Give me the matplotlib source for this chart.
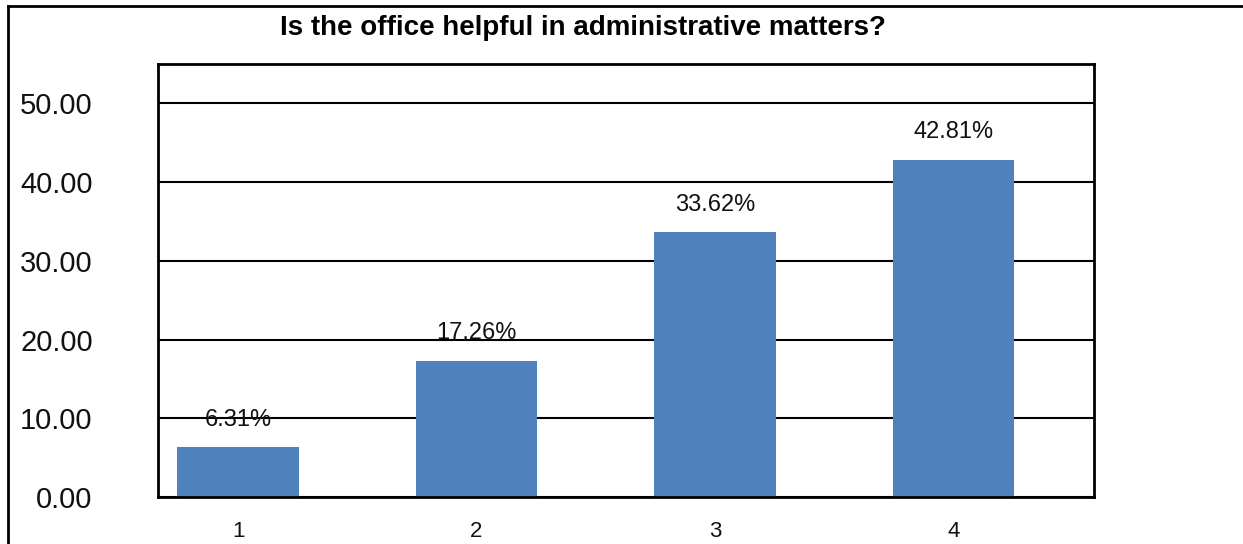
import matplotlib.pyplot as plt
from matplotlib.lines import Line2D

plt.rcParams['font.family'] = ['Liberation Sans', 'DejaVu Sans']

# chart data
categories = ['1', '2', '3', '4']
percentages = [6.31, 17.26, 33.62, 42.81]
value_labels = ['6.31%', '17.26%', '33.62%', '42.81%']
y_ticks = [0, 10, 20, 30, 40, 50]

fig = plt.figure(figsize=(12.43, 5.44), dpi=100)
W, H = 1243, 544
# axes box in pixels: left 158, right 1094, top 64, bottom 497
ax = fig.add_axes([158 / W, 1 - 497 / H, (1094 - 158) / W, (497 - 64) / H])

x = list(range(len(categories)))
bars = ax.bar(x, percentages, width=0.51, color='#4F81BD', zorder=2)

for b, lab in zip(bars, value_labels):
    ax.annotate(lab, (b.get_x() + b.get_width() / 2, b.get_height()),
                xytext=(0, 12), textcoords='offset points',
                ha='center', va='bottom', fontsize=17, color='#111111')

ax.set_xlim(-0.336, 3.59)
ax.set_ylim(0, 55)
ax.set_xticks(x)
ax.set_xticklabels(categories)
ax.set_yticks(y_ticks)
ax.set_yticklabels(['%.2f' % v for v in y_ticks])
ax.tick_params(axis='y', length=0, pad=47, labelsize=21, labelcolor='#111111')
ax.tick_params(axis='x', length=0, pad=17, labelsize=16, labelcolor='#111111')

ax.set_axisbelow(True)
ax.yaxis.grid(True, color='black', linewidth=1.5)
for s in ax.spines.values():
    s.set_color('black')
    s.set_linewidth(2)

fig.text(583 / W, 1 - 28 / H, 'Is the office helpful in administrative matters?',
         ha='center', va='center', fontsize=20, fontweight='bold')

# outer chart frame (top and left edges visible)
fig.add_artist(Line2D([8 / W, 1], [1 - 6 / H, 1 - 6 / H], color='black', linewidth=2,
                      transform=fig.transFigure))
fig.add_artist(Line2D([8 / W, 8 / W], [0, 1 - 6 / H], color='black', linewidth=2,
                      transform=fig.transFigure))

fig.savefig('out.png', dpi=100)
